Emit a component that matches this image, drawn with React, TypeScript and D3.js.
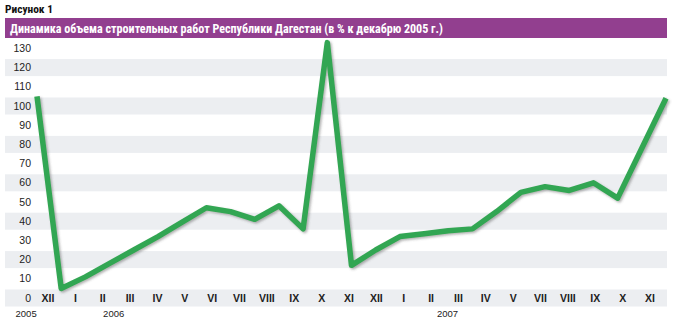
import React from "react";
import * as d3 from "d3";

const W = 676;
const H = 323;

const figureLabel = "Рисунок 1";
const title = "Динамика объема строительных работ Республики Дагестан (в % к декабрю 2005 г.)";

const values = [105, 5, 11, 18, 25, 32, 39.5, 47, 45, 41, 48, 36, 133, 17, 25, 32, 33.5, 35, 36, 45, 55, 58, 56, 60, 52, 78, 104];

const monthLabels = ["XII", "I", "II", "III", "IV", "V", "VI", "VII", "VIII", "IX", "X", "XI", "XII", "I", "II", "III", "IV", "V", "VII", "VIII", "IX", "X", "XI"];

const yearLabels = ["2005", "2006", "2007"];
const yearAnchors = [-0.8, 2.4, 14.6];

const yTicks = [0, 10, 20, 30, 40, 50, 60, 70, 80, 90, 100, 110, 120, 130];
const bandTicks = [0, 20, 40, 60, 80, 100, 120];

export default function App() {
  const y = d3.scaleLinear().domain([0, 130]).range([298, 48.4]);
  const x = d3.scaleLinear().domain([0, values.length - 1]).range([37, 666]);
  const xl = d3.scaleLinear().domain([0, monthLabels.length - 1]).range([48, 650]);

  const line = d3
    .line<number>()
    .x((_, i) => x(i))
    .y((d) => y(d))
    .curve(d3.curveLinear);

  const bandH = 17;
  const fontMain = "'Liberation Sans', Arial, Helvetica, sans-serif";
  const fontNarrow = "'Liberation Sans Narrow', 'Roboto Condensed', 'Liberation Sans', Arial, sans-serif";

  return (
    <svg
      width={W}
      height={H}
      viewBox={`0 0 ${W} ${H}`}
      style={{ position: "absolute", left: 0, top: 0, background: "#fff" }}
    >
      <defs>
        <filter id="shadow" x="-10%" y="-10%" width="120%" height="120%">
          <feDropShadow dx="1.5" dy="1.5" stdDeviation="1" floodColor="#555" floodOpacity="0.45" />
        </filter>
      </defs>

      <text
        x={5}
        y={13}
        fontFamily={fontNarrow}
        fontWeight="bold"
        fontSize={11.5}
        fill="#111"
        textLength={48}
        lengthAdjust="spacingAndGlyphs"
      >
        {figureLabel}
      </text>

      <rect x={5} y={18} width={662} height={20} fill="#923f8f" />
      <text
        x={10}
        y={33}
        fontFamily={fontNarrow}
        fontWeight="bold"
        fontSize={12.5}
        fill="#fff"
        textLength={433}
        lengthAdjust="spacingAndGlyphs"
      >
        {title}
      </text>

      {bandTicks.map((t) => (
        <rect key={t} x={5} y={y(t) - bandH / 2} width={662} height={bandH} fill="#eceef1" />
      ))}

      {yTicks.map((t) => (
        <text
          key={t}
          x={31}
          y={y(t)}
          dy="0.35em"
          textAnchor="end"
          fontFamily={fontMain}
          fontSize={10.5}
          fill="#222"
        >
          {t}
        </text>
      ))}

      {monthLabels.map((m, i) => (
        <text
          key={i}
          x={xl(i)}
          y={y(0)}
          dy="0.35em"
          textAnchor="middle"
          fontFamily={fontMain}
          fontWeight="bold"
          fontSize={10.5}
          fill="#222"
        >
          {m}
        </text>
      ))}

      {yearLabels.map((yr, i) => (
        <text
          key={yr}
          x={xl(yearAnchors[i])}
          y={317}
          textAnchor="middle"
          fontFamily={fontMain}
          fontSize={9.5}
          fill="#222"
        >
          {yr}
        </text>
      ))}

      <path
        d={line(values) || ""}
        fill="none"
        stroke="#33a653"
        strokeWidth={5.5}
        strokeLinejoin="round"
        strokeLinecap="butt"
        filter="url(#shadow)"
      />
    </svg>
  );
}
